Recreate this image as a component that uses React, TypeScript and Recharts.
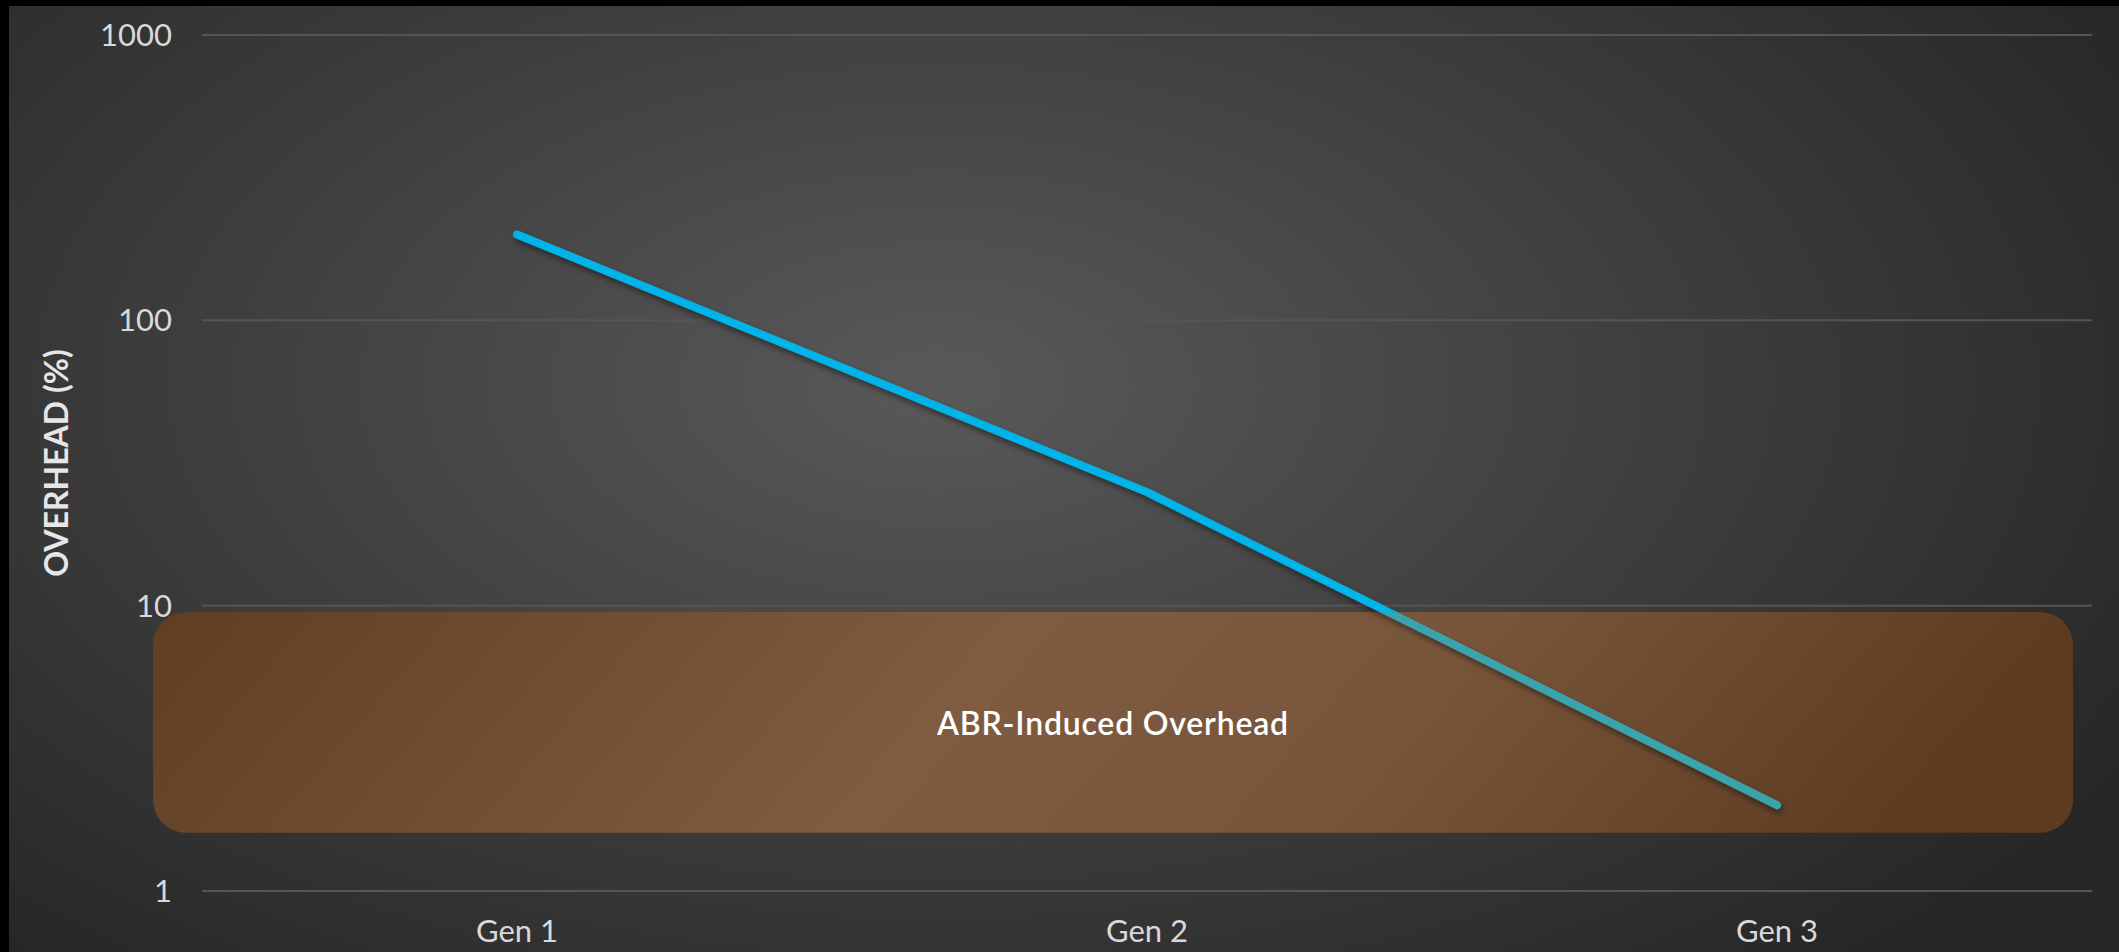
import React from 'react';
import { LineChart, Line, XAxis, YAxis, CartesianGrid, ReferenceArea } from 'recharts';

const categories = ['Gen 1', 'Gen 2', 'Gen 3'];
const overhead = [200, 25, 2];
const yTicks = [1, 10, 100, 1000];
const abrBand = [1.6, 9.5];
const abrLabel = 'ABR-Induced Overhead';
const yLabel = 'OVERHEAD (%)';

const data = categories.map((gen, i) => ({ gen, overhead: overhead[i] }));

const FONT = 'Lato, "Noto Sans", sans-serif';

// brown rounded band, wider than the plot on the left; also sets the line colour switch
const AbrBox = (props: any) => {
    const { x, y, width, height } = props;
    const bx = x - 49;
    const bw = width + 30;
    return (
        <g>
            <defs>
                <linearGradient id="abrFill" x1="0" y1="0" x2="1" y2="0.1">
                    <stop offset="0" stopColor="#5f3e23" />
                    <stop offset="0.45" stopColor="#7f5c40" />
                    <stop offset="0.7" stopColor="#77553b" />
                    <stop offset="1" stopColor="#5c3b21" />
                </linearGradient>
                <linearGradient id="lineStroke" gradientUnits="userSpaceOnUse" x1={0} y1={y} x2={0} y2={y + 1}>
                    <stop offset="0" stopColor="#00b4ea" />
                    <stop offset="1" stopColor="#3aa3ab" />
                </linearGradient>
                <filter id="lineShadow" x="-10%" y="-10%" width="120%" height="130%">
                    <feDropShadow dx="2" dy="4" stdDeviation="3" floodColor="#000" floodOpacity="0.45" />
                </filter>
            </defs>
            <rect x={bx} y={y} width={bw} height={height} rx={33} ry={33} fill="url(#abrFill)" />
            <text
                x={bx + bw / 2}
                y={y + height / 2}
                textAnchor="middle"
                dominantBaseline="central"
                fill="#ffffff"
                fontSize={32}
                fontWeight={600}
                letterSpacing={0.8}
                fontFamily={FONT}
            >
                {abrLabel}
            </text>
        </g>
    );
};

const YTitle = (props: any) => {
    const vb = props.viewBox || {};
    const cx = vb.x + 46;
    const cy = vb.y + vb.height / 2;
    return (
        <text
            x={cx}
            y={cy}
            transform={`rotate(-90, ${cx}, ${cy})`}
            textAnchor="middle"
            dominantBaseline="central"
            fill="#e6e6e6"
            fontSize={32}
            fontWeight={700}
            fontFamily={FONT}
        >
            {yLabel}
        </text>
    );
};

export default function App() {
    return (
        <div style={{ position: 'absolute', left: 0, top: 0, width: 2119, height: 952, background: '#000', overflow: 'hidden' }}>
            <div
                style={{
                    position: 'absolute',
                    left: 9,
                    top: 6,
                    width: 2110,
                    height: 946,
                    background: 'radial-gradient(ellipse 65% 80% at 44% 40%, #595959 0%, #3d3d3d 55%, #272727 100%)',
                }}
            >
                <LineChart width={2110} height={946} data={data} margin={{ top: 29, right: 27, bottom: 0, left: 0 }}>
                    <CartesianGrid vertical={false} stroke="#555555" strokeWidth={2} />
                    <XAxis
                        dataKey="gen"
                        scale="band"
                        height={61}
                        axisLine={false}
                        tickLine={false}
                        tickMargin={23}
                        tick={{ fill: '#d9d9d9', fontSize: 31, fontFamily: FONT }}
                    />
                    <YAxis
                        scale="log"
                        domain={[1, 1000]}
                        ticks={yTicks}
                        width={193}
                        axisLine={false}
                        tickLine={false}
                        tickMargin={24}
                        tick={{ fill: '#d9d9d9', fontSize: 31, fontFamily: FONT }}
                        label={<YTitle />}
                    />
                    <ReferenceArea y1={abrBand[0]} y2={abrBand[1]} ifOverflow="visible" shape={<AbrBox />} />
                    <Line
                        type="linear"
                        dataKey="overhead"
                        stroke="url(#lineStroke)"
                        strokeWidth={8}
                        strokeLinecap="round"
                        strokeLinejoin="round"
                        filter="url(#lineShadow)"
                        dot={false}
                        activeDot={false}
                        isAnimationActive={false}
                    />
                </LineChart>
            </div>
        </div>
    );
}
